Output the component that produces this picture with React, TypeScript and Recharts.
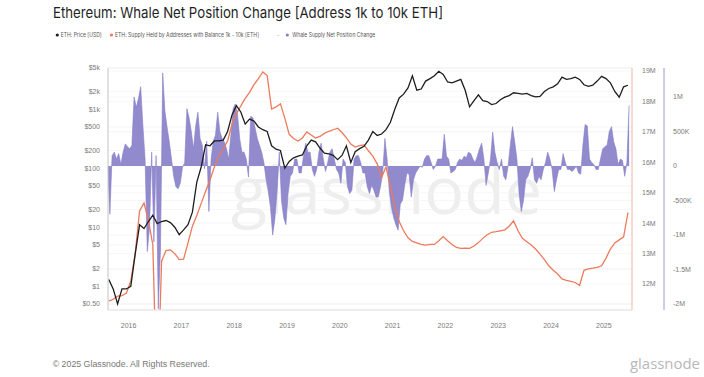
import React from 'react';
import { ComposedChart, Line, Area, XAxis, YAxis, CartesianGrid } from 'recharts';

// Monthly samples, Aug 2015 .. Jun 2025
const priceUsd = [
  1.3, 0.9, 0.5, 0.9, 0.9,
  1.0, 3.5, 11, 9.5, 12.5, 16, 11.5, 12.5, 13, 12, 10, 7.5,
  9, 11, 18, 58, 105, 250, 240, 290, 290, 300, 420, 800,
  1150, 900, 560, 680, 630, 500, 450, 420, 240, 210, 200, 100,
  130, 150, 160, 168, 240, 300, 280, 220, 180, 175, 165, 140,
  165, 240, 125, 190, 215, 235, 300, 420, 360, 380, 450, 600,
  1000, 1550, 1800, 2300, 3700, 2100, 2200, 3000, 3300, 3700, 4400, 3900,
  2900, 2800, 3000, 3200, 2100, 1100, 1400, 1750, 1400, 1350, 1200, 1250,
  1450, 1600, 1700, 1900, 1850, 1800, 1850, 1700, 1620, 1650, 2000, 2250,
  2400, 2700, 3500, 3200, 3300, 3500, 3200, 2600, 2450, 2550, 3000, 3600,
  3300, 2800, 2000, 1600, 2400, 2550,
];

// Supply held by 1k-10k ETH addresses, millions of ETH (monthly)
const supplyM = [
  11.44, 11.5, 11.6, 11.62, 11.7,
  12.1, 13.0, 14.4, 14.66, 14.1, 13.3, 8.0, 12.75, 13.1, 13.12, 13.0, 12.8,
  12.82, 13.35, 13.9, 14.25, 14.65, 15.05, 15.42, 15.85, 16.2, 16.45, 16.7, 17.25,
  17.6, 17.85, 18.1, 18.3, 18.55, 18.75, 18.97, 18.85, 17.75, 17.82, 17.92, 17.45,
  16.92, 16.78, 16.7, 16.8, 17.0, 16.9, 16.8, 16.85, 16.95, 17.02, 17.07, 17.12,
  16.98, 16.8, 16.6, 16.5, 16.55, 16.57, 16.38, 16.2, 15.95, 15.5, 15.85, 15.2,
  14.55, 14.05, 13.75, 13.52, 13.4, 13.35, 13.3, 13.28, 13.3, 13.3, 13.42, 13.56,
  13.42, 13.3, 13.2, 13.17, 13.18, 13.17, 13.25, 13.36, 13.5, 13.62, 13.7, 13.72,
  13.75, 13.78, 13.9, 14.08, 13.75, 13.5, 13.39, 13.28, 13.15, 12.98, 12.8, 12.6,
  12.45, 12.33, 12.17, 12.12, 12.09, 12.05, 11.95, 12.45, 12.5, 12.52, 12.55, 12.6,
  12.85, 13.15, 13.35, 13.45, 13.55, 14.35,
];

// Whale supply net position change, millions of ETH (half-monthly)
const netChangeM = [
  0.0, -0.7, 0.15, 0.2, 0.1, 0.18, 0.02, 0.2, 0.32, 0.28,
  0.25, 0.3, 1.0, 0.85, 0.98, 1.15, 0.58, 0.1, -1.24, -0.9, 0.2, -1.1, 0.15, -2.07, -1.2, 1.35, 0.8, 0.56, 0.35, 0.1, -0.15, -0.3, -0.33, -0.25,
  -0.02, 0.05, 0.83, 0.7, 0.5, 0.25, 0.58, 0.78, 0.4, 0.3, -0.04, 0.36, -0.66, 0.1, 0.36, 0.45, 0.78, 0.5, 0.4, 0.35, 0.25, 0.1, 0.45, 0.83,
  0.9, 0.75, 0.4, 0.2, 0.2, 0.1, -0.16, 0.72, 0.7, 0.55, 0.4, 0.3, 0.2, 0.05, -0.2, -0.37, -0.6, -1.0, -0.76, -0.37, 0.2, -0.5, -0.75, -0.85,
  -0.4, -0.15, -0.1, 0.1, 0.1, -0.1, -0.1, 0.15, 0.33, 0.2, 0.2, -0.05, -0.15, -0.05, 0.2, 0.33, 0.1, -0.08, 0.05, 0.2, 0.25, 0.1, -0.05, -0.1,
  -0.25, 0.1, 0.05, -0.3, -0.4, -0.35, 0.1, 0.15, 0.15, 0.05, -0.1, -0.1, -0.3, -0.4, -0.28, -0.35, -0.45, -0.45, -0.3, -0.1, 0.4, 0.1, -0.37, -0.6,
  -0.75, -0.85, -0.93, -0.55, -0.5, -0.28, -0.1, -0.12, -0.45, -0.2, -0.1, -0.05, 0.0, -0.02, 0.1, 0.15, 0.15, 0.05, -0.05, 0.0, 0.1, 0.1, 0.1, 0.46,
  0.14, 0.1, -0.1, -0.08, -0.05, 0.05, 0.1, 0.08, 0.14, 0.12, 0.2, 0.18, 0.1, 0.05, 0.14, 0.25, 0.33, 0.1, -0.28, -0.1, 0.1, 0.49, 0.2, 0.05,
  -0.05, 0.1, -0.15, -0.2, 0.0, 0.3, 0.57, 0.35, 0.1, -0.4, -0.66, -0.5, -0.2, -0.15, -0.05, 0.12, -0.2, -0.25, -0.15, -0.2, -0.05, 0.05, 0.2, 0.1,
  -0.05, -0.37, -0.2, -0.05, -0.05, 0.18, 0.05, -0.05, -0.05, -0.08, -0.05, 0.0, -0.1, -0.12, 0.3, 0.6, 0.58, 0.1, 0.05, 0.02, -0.05, -0.05, 0.1, 0.25,
  0.28, 0.3, 0.5, 0.57, 0.35, 0.25, 0.02, 0.1, 0.08, -0.15, 0.05, 0.88,
];

const yearTicks = [2016, 2017, 2018, 2019, 2020, 2021, 2022, 2023, 2024, 2025];
const priceTicks = [0.5, 1, 2, 5, 10, 20, 50, 100, 200, 500, 1000, 2000, 5000];
const supplyTicks = [12, 13, 14, 15, 16, 17, 18, 19];
const netTicks = [-2, -1.5, -1, -0.5, 0, 0.5, 1];

const START = 2015 + 7 / 12; // Aug 2015
const priceData = priceUsd.map((v, i) => ({ t: START + i / 12 + 1 / 24, price: v }));
const supplyData = supplyM.map((v, i) => ({ t: START + i / 12 + 1 / 24, supply: v }));
const netData = netChangeM.map((v, j) => ({ t: START + j / 24 + 1 / 48, net: v }));

const fmtPrice = (v: number) => {
  if (v >= 1000) return `$${v / 1000}k`;
  if (v < 1) return `$${v.toFixed(2)}`;
  return `$${v}`;
};
const fmtSupply = (v: number) => `${v}M`;
const fmtNet = (v: number) => {
  if (v === 0) return '0';
  if (Math.abs(v) < 1) return `${v * 1000}K`;
  return `${v}M`;
};

const tickStyle = { fontSize: 7, fill: '#7a7a7a', fontFamily: '"Liberation Sans", Arial, sans-serif' };

const PURPLE = '#857dc8';
const ORANGE = '#ec7a5c';
const BLACK = '#1e1e1e';

export default function App() {
  return (
    <div style={{ position: 'absolute', left: 0, top: 0, width: 704, height: 377, background: '#fff', overflow: 'hidden' }}>
      <svg width={704} height={377} style={{ position: 'absolute', left: 0, top: 0, zIndex: 0 }}>
        <text x={231} y={214} fontSize={66} fill="#eeeeee" fontFamily='"Open Sans", sans-serif' textLength={311} lengthAdjust="spacingAndGlyphs">glassnode</text>
      </svg>
      <div style={{ position: 'absolute', left: 0, top: 0, zIndex: 1 }}>
        <ComposedChart width={704} height={377} margin={{ top: 68, right: 0, bottom: 37, left: 0 }}>
          <CartesianGrid yAxisId="price" vertical={false} stroke="#f0f0f0" strokeWidth={0.6} />
          <CartesianGrid yAxisId="a_supply" vertical={false} stroke="#f2f2f2" strokeWidth={0.6} />
          <CartesianGrid yAxisId="b_net" vertical={false} stroke="#f2f2f2" strokeWidth={0.6} />
          <XAxis
            dataKey="t"
            type="number"
            domain={[2015.61, 2025.534]}
            allowDataOverflow
            ticks={yearTicks}
            tickFormatter={(v: number) => String(v)}
            tick={tickStyle}
            tickLine={false}
            tickSize={0}
            tickMargin={13}
            axisLine={{ stroke: '#e6e6e6' }}
            height={30}
          />
          <YAxis
            yAxisId="price"
            orientation="left"
            scale="log"
            type="number"
            domain={[0.3955, 5000]}
            allowDataOverflow
            ticks={priceTicks}
            tickFormatter={fmtPrice}
            tick={tickStyle}
            tickLine={false}
            tickSize={0}
            tickMargin={8}
            axisLine={{ stroke: '#c4c4c4' }}
            width={108}
          />
          <YAxis
            yAxisId="a_supply"
            orientation="right"
            type="number"
            domain={[11.146, 19.099]}
            allowDataOverflow
            ticks={supplyTicks}
            tickFormatter={fmtSupply}
            tick={tickStyle}
            tickLine={false}
            tickSize={0}
            tickMargin={10}
            axisLine={{ stroke: '#f3b7a6' }}
            width={32}
          />
          <YAxis
            yAxisId="b_net"
            orientation="right"
            type="number"
            domain={[-2.087, 1.42]}
            allowDataOverflow
            ticks={netTicks}
            tickFormatter={fmtNet}
            tick={tickStyle}
            tickLine={false}
            tickSize={0}
            tickMargin={9}
            axisLine={{ stroke: '#9e98d2' }}
            width={40}
          />
          <Area
            yAxisId="b_net"
            data={netData}
            dataKey="net"
            type="linear"
            stroke={PURPLE}
            strokeWidth={0.6}
            fill={PURPLE}
            fillOpacity={0.9}
            baseValue={0}
            isAnimationActive={false}
            dot={false}
            activeDot={false}
          />
          <Line
            yAxisId="a_supply"
            data={supplyData}
            dataKey="supply"
            type="linear"
            stroke={ORANGE}
            strokeWidth={1.3}
            dot={false}
            activeDot={false}
            isAnimationActive={false}
          />
          <Line
            yAxisId="price"
            data={priceData}
            dataKey="price"
            type="linear"
            stroke={BLACK}
            strokeWidth={1.3}
            dot={false}
            activeDot={false}
            isAnimationActive={false}
          />
        </ComposedChart>
      </div>
      <svg width={704} height={377} style={{ position: 'absolute', left: 0, top: 0, zIndex: 2, pointerEvents: 'none' }}>
        <text x={53} y={18.3} fontSize={15} fill="#1f1f1f" fontFamily="Inter, sans-serif" textLength={390} lengthAdjust="spacingAndGlyphs">
          Ethereum: Whale Net Position Change [Address 1k to 10k ETH]
        </text>
        <circle cx={57.3} cy={35} r={1.6} fill={BLACK} />
        <text x={60.7} y={37} fontSize={5.5} fill="#555" fontFamily="Inter, sans-serif" textLength={41} lengthAdjust="spacingAndGlyphs">ETH: Price [USD]</text>
        <circle cx={111.5} cy={35} r={1.6} fill={ORANGE} />
        <text x={115} y={37} fontSize={5.5} fill="#555" fontFamily="Inter, sans-serif" textLength={144} lengthAdjust="spacingAndGlyphs">ETH: Supply Held by Addresses with Balance 1k - 10k [ETH]</text>
        <text x={277} y={37} fontSize={5.5} fill="#999" fontFamily="Inter, sans-serif">-</text>
        <circle cx={287.3} cy={35} r={1.6} fill={PURPLE} />
        <text x={292.3} y={37} fontSize={5.5} fill="#555" fontFamily="Inter, sans-serif" textLength={83} lengthAdjust="spacingAndGlyphs">Whale Supply Net Position Change</text>
        <text x={52.7} y={367} fontSize={8.5} fill="#777" fontFamily='"Liberation Sans", Arial, sans-serif' textLength={157} lengthAdjust="spacingAndGlyphs">© 2025 Glassnode. All Rights Reserved.</text>
        <text x={630} y={369} fontSize={15} fill="#b8b8b8" fontFamily='"Open Sans", sans-serif' textLength={70} lengthAdjust="spacingAndGlyphs">glassnode</text>
      </svg>
    </div>
  );
}
